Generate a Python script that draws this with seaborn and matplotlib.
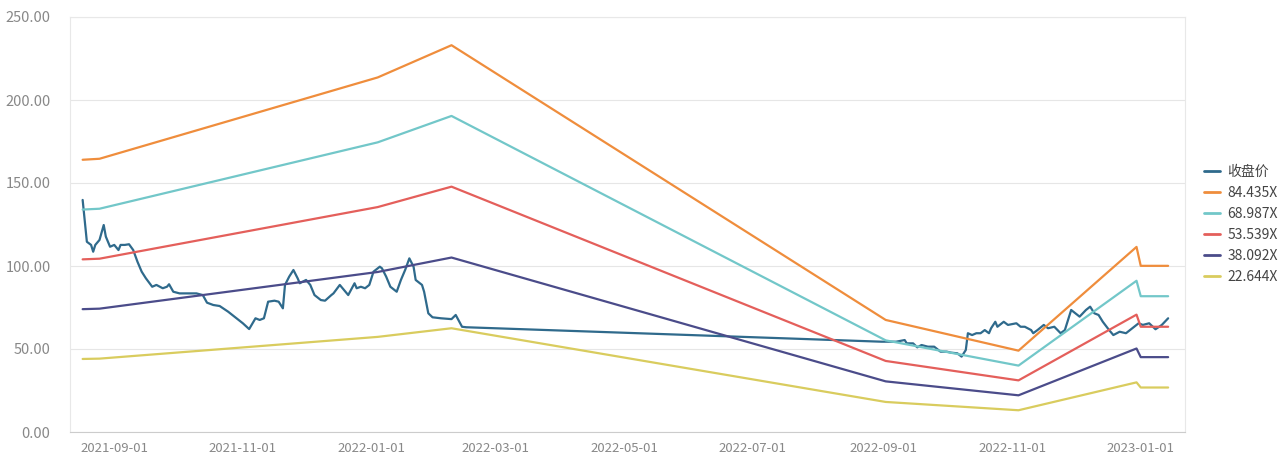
import numpy as np
import pandas as pd
import matplotlib
matplotlib.use("Agg")
import matplotlib.pyplot as plt
import matplotlib.dates as mdates
from matplotlib.ticker import FormatStrFormatter
import seaborn as sns

# closing price
close_dates = [
    "2021-08-17", "2021-08-19", "2021-08-21", "2021-08-22", "2021-08-23", "2021-08-25",
    "2021-08-27", "2021-08-28", "2021-08-30", "2021-09-01", "2021-09-03", "2021-09-04",
    "2021-09-06", "2021-09-08", "2021-09-10", "2021-09-12", "2021-09-14", "2021-09-16",
    "2021-09-19", "2021-09-21", "2021-09-24", "2021-09-26", "2021-09-27", "2021-09-29",
    "2021-10-02", "2021-10-07", "2021-10-10", "2021-10-13", "2021-10-15", "2021-10-18",
    "2021-10-21", "2021-10-25", "2021-10-29", "2021-11-01", "2021-11-04", "2021-11-07",
    "2021-11-09", "2021-11-11", "2021-11-13", "2021-11-16", "2021-11-18", "2021-11-20",
    "2021-11-21", "2021-11-23", "2021-11-25", "2021-11-27", "2021-11-28", "2021-12-01",
    "2021-12-03", "2021-12-05", "2021-12-08", "2021-12-10", "2021-12-13", "2021-12-14",
    "2021-12-17", "2021-12-19", "2021-12-21", "2021-12-24", "2021-12-25", "2021-12-27",
    "2021-12-29", "2021-12-31", "2022-01-02", "2022-01-05", "2022-01-06", "2022-01-08",
    "2022-01-10", "2022-01-12", "2022-01-13", "2022-01-15", "2022-01-17", "2022-01-19",
    "2022-01-21", "2022-01-22", "2022-01-25", "2022-01-26", "2022-01-28", "2022-01-30",
    "2022-02-03", "2022-02-08", "2022-02-10", "2022-02-13", "2022-02-15",
    "2022-08-31", "2022-09-02", "2022-09-07", "2022-09-11", "2022-09-12", "2022-09-15",
    "2022-09-17", "2022-09-19", "2022-09-22", "2022-09-25", "2022-09-26", "2022-09-28",
    "2022-10-01", "2022-10-03", "2022-10-06", "2022-10-08", "2022-10-10", "2022-10-11",
    "2022-10-13", "2022-10-15", "2022-10-17", "2022-10-19", "2022-10-21", "2022-10-22",
    "2022-10-24", "2022-10-25", "2022-10-28", "2022-10-30", "2022-11-03", "2022-11-05",
    "2022-11-07", "2022-11-10", "2022-11-11", "2022-11-13", "2022-11-16", "2022-11-18",
    "2022-11-21", "2022-11-24", "2022-11-26", "2022-11-29", "2022-12-01", "2022-12-03",
    "2022-12-06", "2022-12-08", "2022-12-10", "2022-12-12", "2022-12-14", "2022-12-17",
    "2022-12-19", "2022-12-22", "2022-12-25", "2022-12-28", "2022-12-31", "2023-01-02",
    "2023-01-05", "2023-01-08", "2023-01-11", "2023-01-14",
]
close_vals = [
    139.8, 114.6, 112.7, 108.6, 112.7, 115.7,
    124.7, 117.7, 111.6, 112.7, 109.6, 112.7,
    112.7, 113.1, 109.6, 102.6, 96.6, 92.6,
    87.5, 88.6, 86.6, 87.5, 89.0, 84.5,
    83.5, 83.5, 83.5, 82.5, 77.9, 76.5,
    75.9, 72.5, 68.5, 65.5, 62.0, 68.5,
    67.5, 68.5, 78.5, 79.1, 78.5, 74.5,
    88.6, 93.6, 97.6, 92.6, 89.6, 91.6,
    88.6, 82.5, 79.5, 79.1, 82.5, 83.5,
    88.6, 85.5, 82.5, 89.6, 86.6, 87.5,
    86.6, 88.6, 96.6, 99.6, 98.6, 93.6,
    87.5, 85.5, 84.5, 91.6, 97.6, 104.6,
    99.6, 91.6, 88.6, 84.5, 71.5, 69.1,
    68.5, 68.0, 70.5, 63.4, 63.1,
    54.4, 54.4, 54.4, 55.4, 53.4, 53.4,
    51.0, 52.4, 51.4, 51.4, 50.4, 48.4,
    48.4, 47.8, 47.4, 45.4, 49.4, 59.5,
    58.4, 59.5, 59.5, 61.4, 59.5, 62.5,
    66.4, 63.4, 66.4, 64.5, 65.5, 63.4,
    63.4, 61.4, 59.5, 61.4, 64.5, 62.5,
    63.4, 59.5, 61.4, 73.5, 71.5, 69.5,
    73.5, 75.5, 71.5, 70.5, 66.4, 61.4,
    58.4, 60.4, 59.5, 62.5, 65.5, 64.5,
    65.5, 61.9, 64.5, 68.5,
]

# PE band lines at their turning points
band_dates = ["2021-08-17", "2021-08-25", "2022-01-04", "2022-02-08", "2022-09-02",
              "2022-11-04", "2022-12-30", "2023-01-01", "2023-01-14"]
band_84 = [164.0, 164.6, 213.6, 233.0, 67.5, 49.0, 111.5, 100.1, 100.1]
band_69 = [134.0, 134.5, 174.5, 190.4, 55.2, 40.0, 91.1, 81.8, 81.8]
band_54 = [104.0, 104.4, 135.5, 147.8, 42.8, 31.1, 70.7, 63.4, 63.4]
band_38 = [74.0, 74.3, 96.4, 105.1, 30.5, 22.1, 50.3, 45.1, 45.1]
band_23 = [44.0, 44.2, 57.3, 62.5, 18.1, 13.1, 29.9, 26.8, 26.8]

labels = ["收盘价", "84.435X", "68.987X", "53.539X", "38.092X", "22.644X"]
colors = ["#2f6a8c", "#ef8d3c", "#72c7c9", "#e45f5b", "#4b4c8a", "#d9cc5e"]

sns.set_style("white")
plt.rcParams["font.family"] = ["Noto Sans CJK SC", "DejaVu Sans"]

fig = plt.figure(figsize=(12.87, 4.54), dpi=100)
ax = fig.add_axes([70 / 1287, 22 / 454, 1115 / 1287, 415 / 454])

series = [(close_dates, close_vals), (band_dates, band_84), (band_dates, band_69),
          (band_dates, band_54), (band_dates, band_38), (band_dates, band_23)]
for (d, v), lab, c in zip(series, labels, colors):
    df = pd.DataFrame({"date": pd.to_datetime(d), "value": v})
    sns.lineplot(data=df, x="date", y="value", ax=ax, color=c, linewidth=1.6, label=lab,
                 sort=False, estimator=None)

ax.set_ylim(0, 250)
ax.set_yticks(np.arange(0, 251, 50))
ax.yaxis.set_major_formatter(FormatStrFormatter("%.2f"))
ax.set_xlim(pd.Timestamp("2021-08-11"), pd.Timestamp("2023-01-22"))
ax.xaxis.set_major_locator(mdates.MonthLocator(bymonth=[1, 3, 5, 7, 9, 11]))
ax.xaxis.set_major_formatter(mdates.DateFormatter("%Y-%m-%d"))
ax.set_xlabel("")
ax.set_ylabel("")

ax.grid(axis="y", color="#e6e6e6", linewidth=0.8)
ax.set_axisbelow(True)
for s in ax.spines.values():
    s.set_color("#e8e8e8")
    s.set_linewidth(0.8)
ax.spines["bottom"].set_color("#cccccc")
ax.tick_params(axis="x", colors="#888888", labelsize=9.5, length=4, color="#cccccc", pad=3)
ax.tick_params(axis="y", colors="#888888", labelsize=10.5, length=0, pad=14)

leg = ax.legend(loc="center left", bbox_to_anchor=(1.008, 0.5), frameon=False,
                fontsize=10, handlelength=1.2, handletextpad=0.5, labelspacing=0.5,
                borderaxespad=0.3, labelcolor="#444444")
for h in leg.get_lines():
    h.set_linewidth(2)

fig.savefig("out.png", dpi=100)
